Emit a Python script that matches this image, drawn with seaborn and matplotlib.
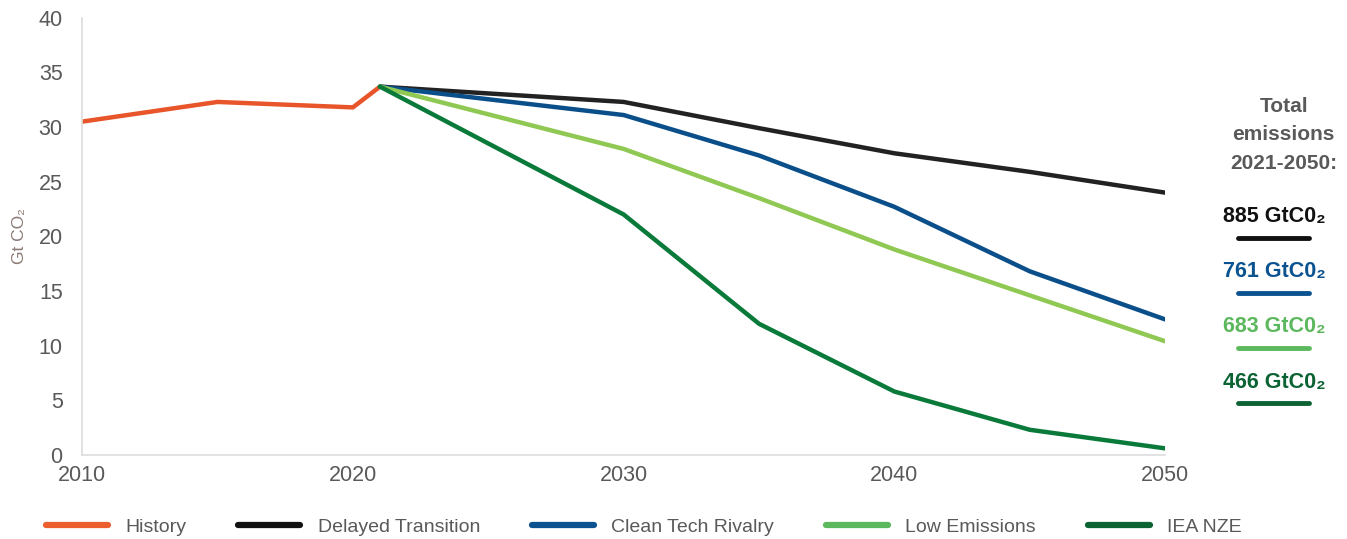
import pandas as pd
import seaborn as sns
import matplotlib.pyplot as plt
from matplotlib.lines import Line2D

# history and scenario pathways, Gt CO2
hist_years = [2010, 2015, 2020, 2021]
history = [30.5, 32.3, 31.8, 33.7]

scen_years = [2021, 2030, 2035, 2040, 2045, 2050]
delayed = [33.7, 32.3, 29.9, 27.6, 25.9, 24.0]
clean_tech = [33.7, 31.1, 27.4, 22.7, 16.8, 12.4]
low_emissions = [33.7, 28.0, 23.5, 18.8, 14.6, 10.4]
iea_nze = [33.7, 22.0, 12.0, 5.8, 2.3, 0.6]

series_names = ['History', 'Delayed Transition', 'Clean Tech Rivalry', 'Low Emissions', 'IEA NZE']
totals = ['885', '761', '683', '466']

line_colors = ['#e8552a', '#222222', '#0b4f8a', '#8fc852', '#0a7a3a']
legend_colors = ['#ec5e2d', '#111111', '#0b5390', '#5cb85c', '#0b6333']
total_colors = ['#111111', '#0b5390', '#5cb85c', '#0b6333']

rows = []
for y, v in zip(hist_years, history):
	rows.append(('History', y, v))
for name, vals in zip(series_names[1:], [delayed, clean_tech, low_emissions, iea_nze]):
	for y, v in zip(scen_years, vals):
		rows.append((name, y, v))
df = pd.DataFrame(rows, columns=['Series', 'Year', 'Value'])

sns.set_style('white')
plt.rcParams['font.family'] = ['Liberation Sans', 'DejaVu Sans']
grey = '#595959'

fig = plt.figure(figsize=(13.47, 5.39), dpi=100)
ax = fig.add_axes([0.061, 0.156, 0.804, 0.811])

sns.lineplot(
	data=df, x='Year', y='Value', hue='Series', hue_order=series_names,
	palette=dict(zip(series_names, line_colors)), linewidth=3.2, ax=ax,
	solid_capstyle='round', solid_joinstyle='round'
)

ax.set_xlim(2010, 2050)
ax.set_ylim(0, 40)
ax.set_xticks([2010, 2020, 2030, 2040, 2050])
ax.set_yticks(range(0, 41, 5))
ax.tick_params(axis='both', colors=grey, labelsize=15.5, length=0)
ax.tick_params(axis='y', pad=14)
ax.tick_params(axis='x', pad=7)
ax.set_xlabel('')
ax.set_ylabel('Gt CO₂', color='#8a7a74', fontsize=12.5, labelpad=8)
for side in ['top', 'right']:
	ax.spines[side].set_visible(False)
for side in ['left', 'bottom']:
	ax.spines[side].set_color('#dddddd')
	ax.spines[side].set_linewidth(1.2)

ax.get_legend().remove()
handles = [Line2D([0], [0], color=c, lw=4.5, solid_capstyle='round') for c in legend_colors]
fig.legend(
	handles, series_names, loc='center', bbox_to_anchor=(0.478, 0.022), ncol=5, frameon=False,
	fontsize=14, labelcolor=grey, handlelength=3.2, handletextpad=0.9, columnspacing=2.65
)

fig.text(0.953, 0.75, 'Total\nemissions\n2021-2050:', ha='center', va='center', fontsize=15,
		 fontweight='bold', color=grey, linespacing=1.65)
text_y = [0.598, 0.496, 0.394, 0.291]
for total, color, ty in zip(totals, total_colors, text_y):
	fig.text(0.946, ty, f'{total} GtC0₂', ha='center', va='center', fontsize=15.5,
			 fontweight='bold', color=color)
	ly = ty - 0.039
	fig.add_artist(Line2D([0.919, 0.972], [ly, ly], transform=fig.transFigure, color=color,
						  lw=3.5, solid_capstyle='round'))

fig.savefig('out.png', dpi=100)
